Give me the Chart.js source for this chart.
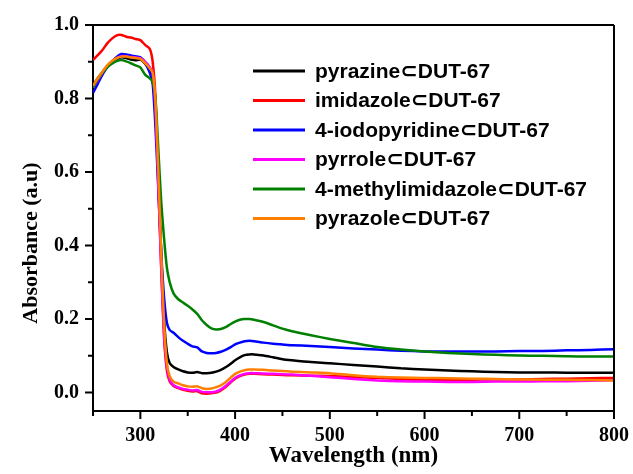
<!DOCTYPE html>
<html>
<head>
<meta charset="utf-8">
<script src="https://cdn.jsdelivr.net/npm/chart.js@4.4.1/dist/chart.umd.min.js"></script>
<style>
  html, body { margin: 0; padding: 0; background: #fff; }
  #wrap { width: 633px; height: 474px; }
</style>
</head>
<body>
<div id="wrap"><canvas id="uvChart" width="633" height="474"></canvas></div>
<script>
/* ===== UV-vis absorbance spectra ===== */

const wavelengths = [250, 255, 260, 265, 270, 275, 280, 285, 290, 295, 300, 305, 310, 313, 316, 319, 322, 325, 328, 331,
  335, 340, 345, 350, 355, 360, 365, 370, 375, 380, 385, 390, 395, 400, 405, 410, 415, 420, 430, 440,
  450, 460, 480, 500, 525, 550, 575, 600, 625, 650, 675, 700, 725, 750, 775, 800];

const pyrazine = [0.835, 0.855, 0.872, 0.888, 0.900, 0.908, 0.912, 0.910, 0.906, 0.904, 0.906, 0.895, 0.875, 0.860, 0.780, 0.580, 0.380, 0.200, 0.110, 0.080,
  0.070, 0.063, 0.058, 0.055, 0.054, 0.056, 0.053, 0.053, 0.054, 0.057, 0.062, 0.069, 0.078, 0.088, 0.096, 0.102, 0.104, 0.104, 0.101, 0.096,
  0.091, 0.088, 0.083, 0.080, 0.075, 0.071, 0.066, 0.063, 0.060, 0.058, 0.056, 0.055, 0.055, 0.054, 0.054, 0.054];

const imidazole = [0.905, 0.918, 0.932, 0.950, 0.963, 0.972, 0.973, 0.968, 0.966, 0.962, 0.959, 0.946, 0.935, 0.900, 0.800, 0.570, 0.340, 0.150, 0.060, 0.030,
  0.018, 0.012, 0.008, 0.005, 0.003, 0.004, -0.002, -0.003, -0.002, 0.000, 0.006, 0.015, 0.027, 0.038, 0.045, 0.049, 0.051, 0.051, 0.050, 0.049,
  0.048, 0.047, 0.046, 0.045, 0.042, 0.040, 0.037, 0.035, 0.035, 0.035, 0.036, 0.036, 0.037, 0.038, 0.039, 0.040];

const iodopyridine = [0.815, 0.840, 0.865, 0.885, 0.900, 0.913, 0.921, 0.920, 0.917, 0.915, 0.912, 0.898, 0.870, 0.840, 0.720, 0.550, 0.380, 0.260, 0.190, 0.170,
  0.163, 0.151, 0.141, 0.133, 0.126, 0.123, 0.112, 0.108, 0.107, 0.108, 0.111, 0.116, 0.123, 0.131, 0.136, 0.140, 0.141, 0.140, 0.136, 0.133,
  0.131, 0.129, 0.127, 0.124, 0.120, 0.117, 0.114, 0.112, 0.112, 0.112, 0.112, 0.113, 0.113, 0.115, 0.116, 0.118];

const pyrrole = [0.830, 0.850, 0.870, 0.886, 0.900, 0.910, 0.915, 0.915, 0.913, 0.912, 0.910, 0.900, 0.885, 0.870, 0.770, 0.560, 0.340, 0.160, 0.070, 0.035,
  0.020, 0.014, 0.010, 0.008, 0.006, 0.007, 0.002, 0.001, 0.001, 0.003, 0.009, 0.018, 0.029, 0.040, 0.047, 0.051, 0.053, 0.053, 0.052, 0.051,
  0.050, 0.049, 0.046, 0.042, 0.037, 0.033, 0.031, 0.030, 0.029, 0.029, 0.030, 0.030, 0.031, 0.031, 0.032, 0.034];

const methylimidazole = [0.830, 0.852, 0.870, 0.885, 0.895, 0.902, 0.905, 0.901, 0.896, 0.890, 0.885, 0.865, 0.855, 0.845, 0.800, 0.660, 0.520, 0.420, 0.340, 0.300,
  0.270, 0.254, 0.245, 0.236, 0.226, 0.214, 0.197, 0.184, 0.175, 0.172, 0.173, 0.178, 0.186, 0.193, 0.198, 0.200, 0.200, 0.198, 0.192, 0.183,
  0.174, 0.167, 0.156, 0.146, 0.135, 0.124, 0.117, 0.112, 0.108, 0.105, 0.103, 0.101, 0.100, 0.099, 0.098, 0.098];

const pyrazole = [0.835, 0.855, 0.873, 0.890, 0.902, 0.910, 0.914, 0.914, 0.912, 0.910, 0.908, 0.896, 0.882, 0.870, 0.790, 0.600, 0.380, 0.190, 0.080, 0.045,
  0.030, 0.025, 0.020, 0.017, 0.016, 0.017, 0.012, 0.010, 0.011, 0.015, 0.020, 0.028, 0.040, 0.051, 0.057, 0.061, 0.063, 0.063, 0.062, 0.060,
  0.059, 0.057, 0.055, 0.053, 0.047, 0.043, 0.041, 0.040, 0.039, 0.038, 0.037, 0.036, 0.035, 0.035, 0.034, 0.033];

const seriesLabels = ['pyrazine\u2282DUT-67', 'imidazole\u2282DUT-67', '4-iodopyridine\u2282DUT-67',
  'pyrrole\u2282DUT-67', '4-methylimidazole\u2282DUT-67', 'pyrazole\u2282DUT-67'];
const seriesValues = [pyrazine, imidazole, iodopyridine, pyrrole, methylimidazole, pyrazole];

const xTicks = [300, 400, 500, 600, 700, 800];
const xMinorTicks = [250, 350, 450, 550, 650, 750];
const yTicks = [0.0, 0.2, 0.4, 0.6, 0.8, 1.0];
const yMinorTicks = [0.1, 0.3, 0.5, 0.7, 0.9];

const lineColors = ['#000000', '#FF0000', '#0000FF', '#FF00FF', '#008000', '#FF8000'];
const serif = '"Liberation Serif", "Times New Roman", serif';
const sans = '"Liberation Sans", Arial, "DejaVu Sans", sans-serif';

// frame, outward tick marks, y title and the in-plot legend
const framePlugin = {
  id: 'frame',
  afterDraw(chart) {
    const { ctx, chartArea: a, scales: { x, y } } = chart;
    ctx.save();
    ctx.strokeStyle = '#000';
    ctx.lineWidth = 2;
    ctx.beginPath();
    ctx.moveTo(a.left, a.top); ctx.lineTo(a.right, a.top);
    ctx.moveTo(a.right, a.top); ctx.lineTo(a.right, a.bottom);
    ctx.stroke();

    ctx.beginPath();
    xTicks.forEach(v => { const px = x.getPixelForValue(v); ctx.moveTo(px, a.bottom); ctx.lineTo(px, a.bottom + 8); });
    xMinorTicks.forEach(v => { const px = x.getPixelForValue(v); ctx.moveTo(px, a.bottom); ctx.lineTo(px, a.bottom + 5); });
    yTicks.forEach(v => { const py = y.getPixelForValue(v); ctx.moveTo(a.left, py); ctx.lineTo(a.left - 8, py); });
    yMinorTicks.forEach(v => { const py = y.getPixelForValue(v); ctx.moveTo(a.left, py); ctx.lineTo(a.left - 5, py); });
    ctx.stroke();

    // y axis title, sitting a little below the axis centre
    ctx.fillStyle = '#000';
    ctx.font = 'bold 22px ' + serif;
    ctx.textAlign = 'center';
    ctx.textBaseline = 'middle';
    ctx.translate(31, 243);
    ctx.rotate(-Math.PI / 2);
    ctx.fillText('Absorbance (a.u)', 0, 0);
    ctx.setTransform(1, 0, 0, 1, 0, 0);

    // legend
    const lx = 253, ly = 71, step = 29.5;
    ctx.font = 'bold 21px ' + sans;
    ctx.textAlign = 'left';
    chart.data.datasets.forEach((ds, i) => {
      const yy = ly + i * step;
      ctx.strokeStyle = ds.borderColor;
      ctx.lineWidth = 3;
      ctx.beginPath();
      ctx.moveTo(lx, yy); ctx.lineTo(lx + 52, yy);
      ctx.stroke();
      ctx.fillText(ds.label, lx + 62, yy + 1);
    });
    ctx.restore();
  }
};

new Chart(document.getElementById('uvChart'), {
  type: 'line',
  data: {
    datasets: seriesValues.map((vals, i) => ({
      label: seriesLabels[i],
      data: vals.map((v, k) => ({ x: wavelengths[k], y: v })),
      borderColor: lineColors[i],
      borderWidth: 2.5,
      pointRadius: 0,
      tension: 0.2,
      fill: false,
      order: seriesValues.length - i,
    })),
  },
  options: {
    responsive: false,
    animation: false,
    layout: { padding: { top: 25, right: 19, left: 0, bottom: 0 } },
    plugins: { legend: { display: false }, tooltip: { enabled: false } },
    scales: {
      x: {
        type: 'linear',
        min: 250,
        max: 800,
        afterFit: s => { s.height = 63; s.paddingLeft = 0; s.paddingRight = 0; },
        afterBuildTicks: s => { s.ticks = xTicks.map(v => ({ value: v })); },
        grid: { display: true, drawOnChartArea: false, drawTicks: false },
        border: { display: true, color: '#000', width: 2 },
        ticks: { color: '#000', padding: 13, maxRotation: 0, font: { family: serif, size: 20, weight: 'bold' } },
        title: { display: true, text: 'Wavelength (nm)', color: '#000', padding: { top: 0, bottom: 4 },
          font: { family: serif, size: 23, weight: 'bold' } },
      },
      y: {
        min: -0.05,
        max: 1.0,
        afterFit: s => { s.width = 93; s.paddingTop = 0; s.paddingBottom = 0; },
        afterBuildTicks: s => { s.ticks = yTicks.map(v => ({ value: v })); },
        grid: { display: true, drawOnChartArea: false, drawTicks: false },
        border: { display: true, color: '#000', width: 2 },
        ticks: { color: '#000', padding: 14, callback: v => v.toFixed(1), font: { family: serif, size: 20, weight: 'bold' } },
      },
    },
  },
  plugins: [framePlugin],
});
</script>
</body>
</html>
